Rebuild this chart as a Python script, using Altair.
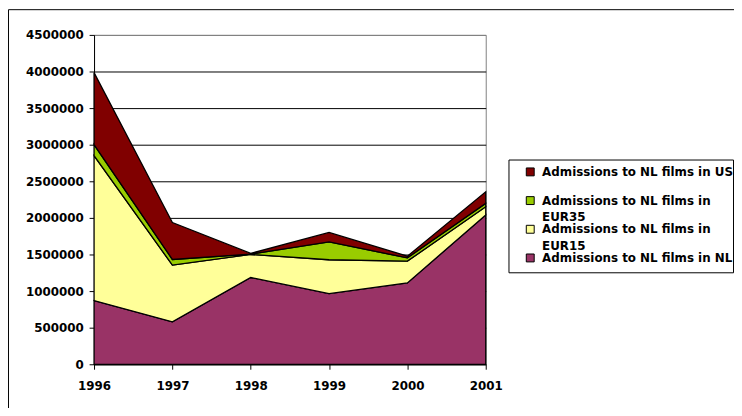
import altair as alt
import pandas as pd

years = [1996, 1997, 1998, 1999, 2000, 2001]
series = [
    "Admissions to NL films in NL",
    "Admissions to NL films in EUR15",
    "Admissions to NL films in EUR35",
    "Admissions to NL films in US",
]
nl = [870000, 580000, 1185000, 965000, 1112000, 2040000]
eur15 = [1980000, 775000, 315000, 463000, 297000, 113000]
eur35 = [150000, 77000, 5000, 243000, 45000, 45000]
us = [985000, 505000, 10000, 131000, 23000, 158000]
colors = ["#993366", "#FFFF99", "#99CC00", "#800000"]
y_ticks = [0, 500000, 1000000, 1500000, 2000000, 2500000, 3000000, 3500000, 4000000, 4500000]

rows = []
for si, (name, vals) in enumerate(zip(series, [nl, eur15, eur35, us])):
    for yr, v in zip(years, vals):
        rows.append({"year": yr, "series": name, "value": v, "order": si})
df = pd.DataFrame(rows)

legend_domain = series[::-1]
legend_colors = colors[::-1]

FONT = "DejaVu Sans"

frame = alt.Chart(pd.DataFrame({"a": [0]})).mark_rect(
    fill="transparent", stroke="black", strokeWidth=1
).encode(x=alt.value(-86.5), x2=alt.value(700), y=alt.value(-25.5), y2=alt.value(600))

legend_box = alt.Chart(pd.DataFrame({"a": [0]})).mark_rect(
    fill="white", stroke="black", strokeWidth=1
).encode(x=alt.value(419.5), x2=alt.value(646.5), y=alt.value(126.5), y2=alt.value(240.5))

area = alt.Chart(df).mark_area(stroke="black", strokeWidth=1.3, opacity=1).encode(
    x=alt.X(
        "year:Q",
        scale=alt.Scale(domain=[1996, 2001], nice=False, zero=False),
        axis=alt.Axis(
            values=years, format="d", title=None, grid=False,
            labelFont=FONT, labelFontWeight="bold", labelFontSize=12, labelColor="black",
            tickColor="black", tickSize=5, domainColor="black", labelPadding=11,
            labelFlush=False,
        ),
    ),
    y=alt.Y(
        "value:Q",
        stack="zero",
        scale=alt.Scale(domain=[0, 4500000], nice=False),
        axis=alt.Axis(
            values=y_ticks, format="d", title=None,
            labelFont=FONT, labelFontWeight="bold", labelFontSize=12, labelColor="black",
            tickColor="black", tickSize=5, domainColor="black", labelPadding=6,
            gridColor={"condition": {"test": "datum.value >= 4500000", "value": "#808080"}, "value": "#000000"},
            gridOpacity=1, gridWidth=1,
        ),
    ),
    color=alt.Color(
        "series:N",
        scale=alt.Scale(domain=legend_domain, range=legend_colors),
        legend=alt.Legend(
            title=None, orient="none", legendX=435, legendY=132.5,
            symbolType="square", symbolSize=64, symbolStrokeColor="black",
            symbolStrokeWidth=1, symbolOpacity=1,
            labelFont=FONT, labelFontWeight="bold", labelFontSize=12, labelColor="black",
            labelOffset=6, labelLimit=400, padding=0, rowPadding=0, gridAlign="all",
            labelExpr="indexof(datum.label, 'EUR') >= 0 ? ['Admissions to NL films in', slice(datum.label, 26)] : datum.label",
        ),
    ),
    order=alt.Order("order:Q"),
)

chart = alt.layer(frame, legend_box, area).properties(
    width=396, height=333,
    autosize=alt.AutoSizeParams(type="none"),
    padding={"left": 87, "top": 25, "right": 251, "bottom": 42},
).configure(
    style={"guide-label": {"lineHeight": 17}}
).configure_view(stroke="#808080", strokeWidth=1)

chart.save("out.html", embed_options={"renderer": "svg", "actions": False})
